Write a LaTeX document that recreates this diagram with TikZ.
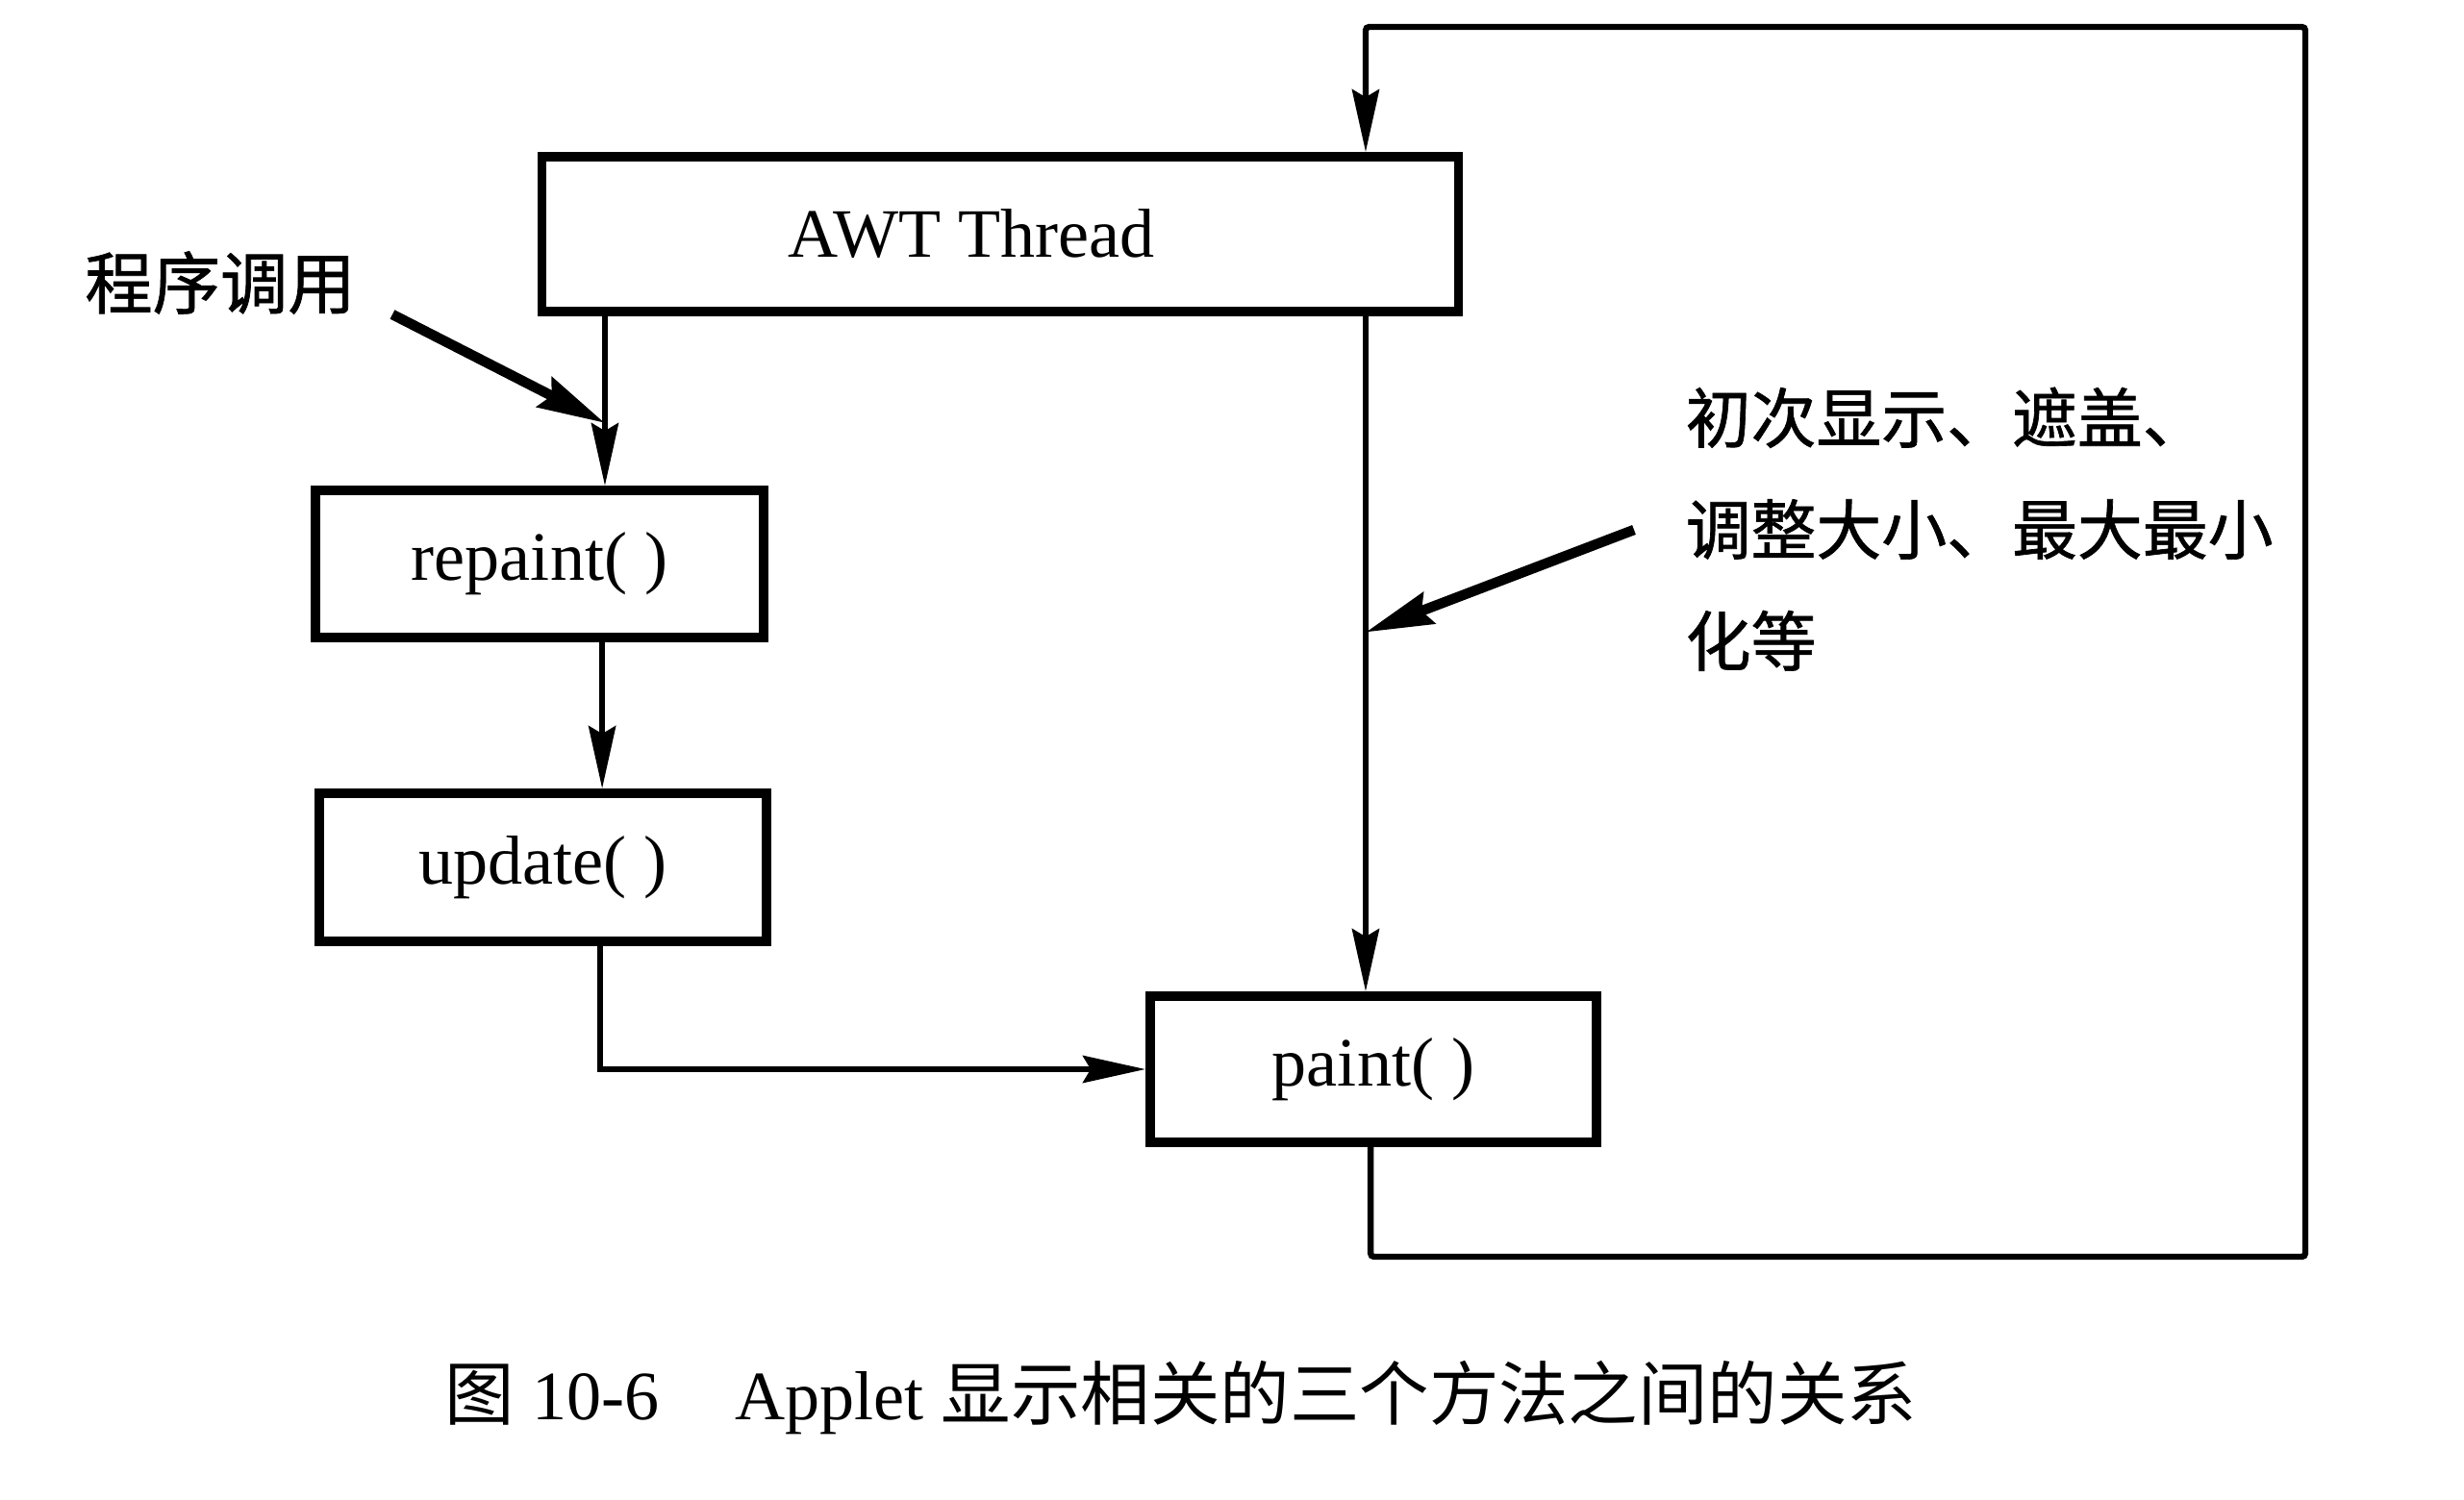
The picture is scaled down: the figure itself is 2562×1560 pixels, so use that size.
\documentclass[tikz,border=0pt]{standalone}
\usepackage{fontspec}
\setmainfont{Liberation Serif}
\newfontfamily\cjk{Noto Sans CJK SC}
\newfontfamily\cjkm{Noto Sans CJK SC}[FakeBold=1]
\usetikzlibrary{arrows.meta,calc}
\begin{document}
\begin{tikzpicture}[x=0.01cm,y=-0.01cm,
  box/.style={draw, line width=2.7pt, inner sep=0pt, font=\fontsize{20.5}{24}\selectfont},
  conn/.style={line width=1.8pt},
  arr/.style={conn, -{Stealth[length=6.5mm,width=2.8mm,inset=0.8mm]}},
  bigarr/.style={line width=3pt, -{Stealth[length=7mm,width=3.4mm,inset=0.8mm]}},
  lab/.style={font=\cjkm\fontsize{19.3}{33}\selectfont, align=left, inner sep=0pt}
]
\useasboundingbox (0,0) rectangle (2562,1560);

% boxes
\node[box, minimum width=9.52cm, minimum height=1.61cm] (awt) at (1040,243.5) {\hspace*{-0.6cm}AWT Thread};
\node[box, minimum width=4.66cm, minimum height=1.53cm] (rep) at (561,586.5) {repaint( )};
\node[box, minimum width=4.65cm, minimum height=1.54cm] (upd) at (564.5,902) {update( )};
\node[box, minimum width=4.64cm, minimum height=1.52cm] (pnt) at (1428,1112) {paint( )};

% labels
\node[lab, font=\cjkm\fontsize{20}{33}\selectfont] (call) at (229,294) {程序调用};
\node[lab, anchor=north west] (why) at (1752,402) {初次显示、遮盖、\\调整大小、最大最小\\化等};
\node[inner sep=0pt, font=\fontsize{20.5}{24}\selectfont] (cap) at (1228,1454)
  {{\cjk\fontsize{20.6}{24}\selectfont 图} 10-6\hspace{1.1em}Applet {\cjk\fontsize{20.6}{24}\selectfont 显示相关的三个方法之间的关系}};

% connector points
\coordinate (a1) at ($(awt.south west)+(70,0)$);
\coordinate (r1) at (a1 |- rep.north);
\coordinate (r2) at ($(rep.south west)+(303,0)$);
\coordinate (u1) at ($(upd.south west)+(297,0)$);
\coordinate (a2) at ($(awt.south west)+(861,0)$);
\coordinate (a3) at ($(awt.north west)+(861,0)$);
\coordinate (p1) at ($(pnt.south west)+(234,0)$);
\coordinate (lr) at (2397,1307);
\coordinate (lt) at (2397,28);
\coordinate (s1) at (408,327);
\coordinate (s2) at (1699,551);

% connectors
\draw[arr] (a1) -- (r1);
\draw[arr] (r2) -- (r2 |- upd.north);
\draw[arr] (u1) |- (pnt.west);
\draw[arr] (a2) -- (a2 |- pnt.north);
\draw[arr, rounded corners=1pt] (p1) -- (p1 |- lr) -- (lr) -- (lt) -- (lt -| a3) -- (a3);
\draw[bigarr] (s1) -- ($(a1)!0.63!(r1)$);
\draw[bigarr] (s2) -- ($(a2)!0.468!(a2 |- pnt.north)$);
\end{tikzpicture}
\end{document}
